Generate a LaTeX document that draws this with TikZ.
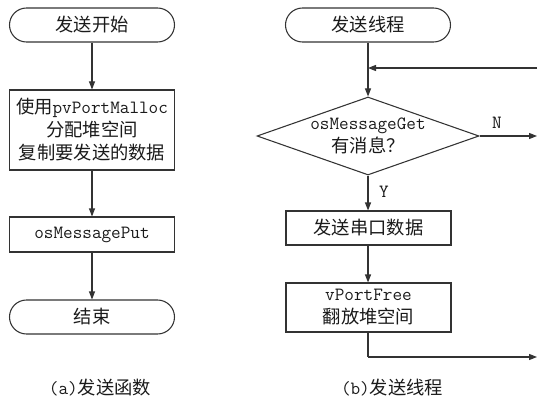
\documentclass[tikz,border=0pt]{standalone}
\usepackage{fontspec}
\newfontfamily\cjk[Scale=0.98]{Noto Sans CJK SC}
\usetikzlibrary{shapes.geometric,arrows.meta}
\definecolor{ln}{HTML}{333333}
\definecolor{tx}{HTML}{1A1A1A}
\tikzset{
  every node/.style={text=tx, font=\fontsize{14}{17.25}\selectfont\ttfamily},
  term/.style={draw=ln, line width=0.8pt, rectangle, rounded corners=12.75pt, minimum width=165*0.75pt, minimum height=34*0.75pt, inner sep=0pt},
  procbox/.style={draw=ln, line width=0.8pt, rectangle, minimum width=165*0.75pt, inner sep=0pt, align=center},
  dec/.style={draw=ln, line width=0.8pt, diamond, aspect=2.846, minimum width=222*0.75pt, minimum height=78*0.75pt, inner sep=0pt},
  arr/.style={draw=ln, line width=0.8pt, -{Triangle[length=6pt,width=4.5pt]}},
  ln/.style={draw=ln, line width=0.8pt},
  lbl/.style={inner sep=0pt}
}
\begin{document}
\begin{tikzpicture}[x=0.75pt,y=-0.75pt]
\useasboundingbox (0,0) rectangle (538,399);
% (a)
\node[term] (a1) at (92,25) {\cjk 发送开始};
\node[procbox, minimum height=80*0.75pt] (a2) at (92,130) {{\cjk 使用}pvPortMalloc\\\cjk 分配堆空间\\\cjk 复制要发送的数据};
\node[procbox, minimum height=35*0.75pt] (a3) at (92,234.5) {osMessagePut};
\node[term] (a4) at (92,317) {\cjk 结束};
\node[lbl] (capa) at (100,388) {(a){\cjk 发送函数}};
\draw[arr] (a1) -- (a2);
\draw[arr] (a2) -- (a3);
\draw[arr] (a3) -- (a4);
% (b)
\node[term] (b1) at (368,25) {\cjk 发送线程};
\node[dec] (b2) at (368,136) {};
\node[lbl, align=center] (b2t) at (368,136) {osMessageGet\\\cjk 有消息？};
\node[procbox, minimum height=34*0.75pt] (b3) at (368.5,228) {\cjk 发送串口数据};
\node[procbox, minimum height=49*0.75pt] (b4) at (368.5,307.5) {vPortFree\\\cjk 翻放堆空间};
\node[lbl] (capb) at (392,388) {(b){\cjk 发送线程}};
\coordinate (fb) at (537,68);
\coordinate (nout) at (537,136);
\coordinate (bend) at (368,357);
\coordinate (lout) at (537,357);
\draw[arr] (b1) -- (b2.north);
\draw[arr] (fb) -- (fb -| b1);
\draw[arr] (b2.east) -- (nout);
\node[lbl] (nl) at (497,123) {N};
\draw[arr] (b2.south) -- (b3.north -| b2.south);
\node[lbl] (yl) at (384,192) {Y};
\draw[arr] (b3.south -| b2.south) -- (b4.north -| b2.south);
\draw[ln] (b4.south -| b2.south) -- (bend);
\draw[arr] (bend) -- (lout);
\end{tikzpicture}
\end{document}
